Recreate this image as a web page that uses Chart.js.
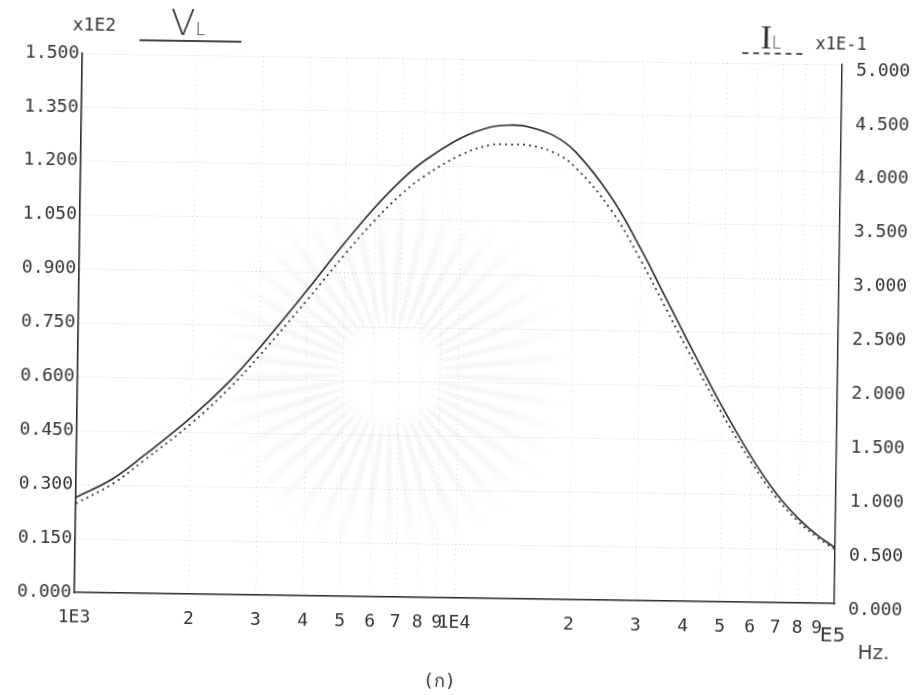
<!DOCTYPE html>
<html>
<head>
<meta charset="utf-8">
<script src="https://cdn.jsdelivr.net/npm/chart.js@4/dist/chart.umd.min.js"></script>
<style>
    html, body { margin: 0; padding: 0; background: #fff; }
    #sheet {
        position: absolute; left: 0; top: 0; width: 922px; height: 695px;
        transform: rotate(0.84deg); transform-origin: 461px 347px;
        color: #333;
    }
    #plot { position: absolute; left: 0; top: 0; }
    /* faint stamp printed behind the plot */
    #stamp {
        position: absolute; left: 130px; top: 115px; width: 520px; height: 520px;
        background: repeating-conic-gradient(from 2deg, rgba(0,0,0,0.055) 0deg 3deg, rgba(0,0,0,0) 3deg 8deg);
        -webkit-mask-image: radial-gradient(circle, rgba(0,0,0,0) 0 11%, #000 16%, rgba(0,0,0,0.45) 38%, rgba(0,0,0,0) 50%);
        mask-image: radial-gradient(circle, rgba(0,0,0,0) 0 11%, #000 16%, rgba(0,0,0,0.45) 38%, rgba(0,0,0,0) 50%);
        filter: blur(1.5px);
    }
    .note { position: absolute; white-space: nowrap; line-height: 1; }
    .mono { font-family: 'DejaVu Sans Mono', monospace; font-size: 18px; }
    .hand { font-family: 'DejaVu Sans', sans-serif; font-weight: 200; }
</style>
</head>
<body>
<div id="sheet">
    <div id="stamp"></div>
    <canvas id="plot" width="922" height="695"></canvas>

    <div class="note mono" style="left:68px; top:21px;">x1E2</div>
    <div class="note hand" style="left:166px; top:9px; font-size:36px;">V<span style="font-size:18px;">L</span></div>
    <div class="note" style="left:135px; top:44px; width:102px; height:0; border-top:2px solid #444;"></div>

    <div class="note" style="left:756px; top:16px; font-family:'Liberation Serif',serif; font-size:34px;">I<span style="font-family:'DejaVu Sans',sans-serif; font-weight:200; font-size:17px;">L</span></div>
    <div class="note" style="left:738px; top:48px; width:60px; height:0; border-top:2px dashed #555;"></div>
    <div class="note mono" style="left:811px; top:30px; font-size:17px;">x1E-1</div>

    <div class="note hand" style="left:824px; top:619px; font-size:20px; font-weight:normal;">E5</div>
    <div class="note hand" style="left:862px; top:636px; font-size:20px; font-weight:normal; color:#444;">Hz.</div>
    <div class="note mono" style="left:428px; top:672px;">(ก)</div>
</div>

<script>
// frequency sweep, Hz
const freq = [1000, 1250, 1500, 2000, 2500, 3000, 4000, 5000, 6000, 7000, 8000, 10000, 12000, 13500,
              15000, 17500, 20000, 25000, 30000, 35000, 40000, 50000, 60000, 70000, 80000, 90000, 100000];

// load voltage V_L, x1E2 (left axis)
const vL = [0.264, 0.318, 0.382, 0.492, 0.591, 0.687, 0.852, 0.985, 1.086, 1.161, 1.214, 1.280, 1.312, 1.318,
            1.314, 1.291, 1.247, 1.121, 0.979, 0.845, 0.729, 0.540, 0.401, 0.301, 0.234, 0.188, 0.155];

// load current I_L, x1E-1 (right axis)
const iL = [0.823, 1.013, 1.227, 1.583, 1.907, 2.217, 2.747, 3.173, 3.500, 3.737, 3.903, 4.110, 4.207, 4.213,
            4.210, 4.147, 4.013, 3.617, 3.160, 2.723, 2.347, 1.737, 1.290, 0.967, 0.753, 0.607, 0.503];

// x axis ticks and what gets printed under them
const xTicks = [1000, 2000, 3000, 4000, 5000, 6000, 7000, 8000, 9000,
                10000, 20000, 30000, 40000, 50000, 60000, 70000, 80000, 90000, 100000];
const xTickLabels = ['1E3', '2', '3', '4', '5', '6', '7', '8', '9',
                     '1E4', '2', '3', '4', '5', '6', '7', '8', '9', ''];

const tickFont = { family: 'DejaVu Sans Mono', size: 18 };
const ink = '#2b2b2b';

new Chart(document.getElementById('plot').getContext('2d'), {
    type: 'line',
    data: {
        datasets: [
            {
                label: 'V_L',
                data: freq.map((f, i) => ({ x: f, y: vL[i] })),
                yAxisID: 'yV',
                borderColor: ink,
                borderWidth: 1.6,
                pointRadius: 0,
                tension: 0.4
            },
            {
                label: 'I_L',
                data: freq.map((f, i) => ({ x: f, y: iL[i] })),
                yAxisID: 'yI',
                borderColor: '#3a3a3a',
                borderWidth: 1.8,
                borderDash: [2, 4],
                pointRadius: 0,
                tension: 0.4
            }
        ]
    },
    options: {
        responsive: false,
        animation: false,
        layout: { padding: { top: 59, left: 0, right: 0, bottom: 0 } },
        plugins: { legend: { display: false }, tooltip: { enabled: false } },
        scales: {
            x: {
                type: 'logarithmic',
                min: 1000,
                max: 100000,
                afterFit: s => { s.height = 97; },
                afterBuildTicks: s => { s.ticks = xTicks.map(v => ({ value: v })); },
                ticks: {
                    autoSkip: false,
                    maxRotation: 0,
                    padding: 15,
                    font: tickFont,
                    color: '#333',
                    callback: (v, i) => xTickLabels[i]
                },
                grid: { color: 'rgba(0,0,0,0.13)', drawTicks: false },
                border: { display: true, color: ink, width: 1.6, dash: [1, 4] }
            },
            yV: {
                position: 'left',
                min: 0,
                max: 1.5,
                afterFit: s => { s.width = 78; },
                ticks: {
                    stepSize: 0.15,
                    padding: 3,
                    font: tickFont,
                    color: '#333',
                    callback: v => v.toFixed(3)
                },
                grid: { color: 'rgba(0,0,0,0.2)', drawTicks: false },
                border: { display: true, color: ink, width: 1.6, dash: [1, 3] }
            },
            yI: {
                position: 'right',
                min: 0,
                max: 5,
                afterFit: s => { s.width = 84; },
                ticks: {
                    stepSize: 0.5,
                    padding: 14,
                    labelOffset: 6,
                    font: tickFont,
                    color: '#333',
                    callback: v => v.toFixed(3)
                },
                grid: { drawOnChartArea: false, drawTicks: false },
                border: { display: true, color: ink, width: 1.4 }
            }
        }
    }
});
</script>
</body>
</html>
